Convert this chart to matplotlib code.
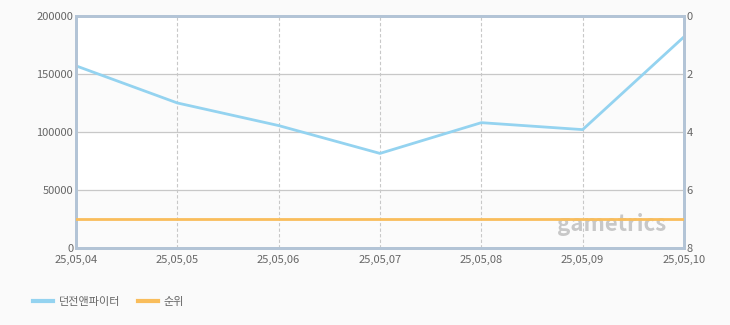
import matplotlib
matplotlib.use("Agg")
import matplotlib.pyplot as plt
from matplotlib.lines import Line2D

plt.rcParams['font.family'] = ['Noto Sans CJK KR', 'DejaVu Sans']

# data
dates = ["25,05,04", "25,05,05", "25,05,06", "25,05,07", "25,05,08", "25,05,09", "25,05,10"]
players = [157000, 125000, 105500, 81500, 108000, 102000, 182000]
rank = [7, 7, 7, 7, 7, 7, 7]

series_name = "던전앤파이터"
rank_name = "순위"

blue = "#94d3f0"
orange = "#f9bd5b"
text_col = "#666666"
spine_col = "#b3c4d6"

fig = plt.figure(figsize=(7.3, 3.25), dpi=100, facecolor="#fafafa")
ax = fig.add_axes([0.104, 0.237, 0.833, 0.714])
ax.set_facecolor("white")

x = list(range(len(dates)))

# alternating bands
for lo in (0, 100000):
    ax.axhspan(lo, lo + 50000, color="#fbfbfb", zorder=0)

ax.plot(x, players, color=blue, lw=2, zorder=3)

ax.set_xlim(0, len(dates) - 1)
ax.set_ylim(0, 200000)
ax.set_yticks([0, 50000, 100000, 150000, 200000])
ax.set_xticks(x)
ax.set_xticklabels(dates)
ax.yaxis.grid(True, color="#c8c8c8", lw=0.9, zorder=1)
ax.xaxis.grid(True, color="#c8c8c8", lw=0.8, ls=(0, (3, 2)), zorder=1)
ax.tick_params(length=0, colors=text_col, labelsize=8, pad=2)
ax.tick_params(axis="x", pad=5)

ax2 = ax.twinx()
ax2.plot(x, rank, color=orange, lw=2, zorder=3)
ax2.set_ylim(8, 0)
ax2.set_yticks([0, 2, 4, 6, 8])
ax2.tick_params(length=0, colors=text_col, labelsize=8, pad=2)

for a in (ax, ax2):
    for s in a.spines.values():
        s.set_color(spine_col)
        s.set_linewidth(2)

# watermark
ax.text(0.97, 0.05, "gametrics", transform=ax.transAxes, ha="right", va="bottom",
        fontsize=16, fontstyle="italic", fontweight="bold", color="#c8c8c8", zorder=2)

handles = [Line2D([], [], color=blue, lw=3), Line2D([], [], color=orange, lw=3)]
fig.legend(handles, [series_name, rank_name], loc="lower left", bbox_to_anchor=(0.032, 0.025),
           ncol=2, frameon=False, fontsize=8, labelcolor=text_col, handlelength=1.8,
           columnspacing=1.6, handletextpad=0.5)

fig.savefig("out.png", dpi=100, facecolor=fig.get_facecolor())
